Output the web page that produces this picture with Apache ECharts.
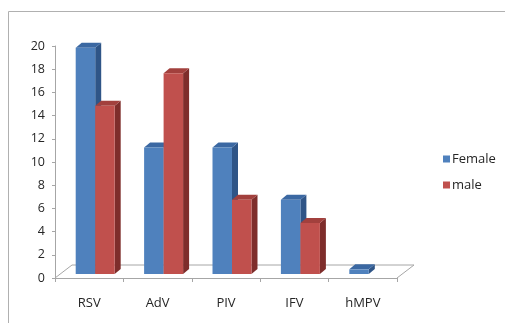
<!DOCTYPE html>
<html>
<head>
<meta charset="utf-8">
<script src="https://cdn.jsdelivr.net/npm/echarts@6/dist/echarts.min.js"></script>
<style>
  html, body { margin: 0; padding: 0; background: #fff; }
  #chart { width: 505px; height: 323px; }
</style>
</head>
<body>
<div id="chart"></div>
<script>
// Virus categories and counts per sex
const categories = ['RSV', 'AdV', 'PIV', 'IFV', 'hMPV'];
const femaleValues = [19.5, 10.9, 10.9, 6.4, 0.4];
const maleValues = [14.5, 17.3, 6.4, 4.4, 0];
const seriesNames = ['Female', 'male'];
const yMin = 0, yMax = 20, yStep = 2;

// Face colours for the pseudo-3D columns: front, side, top
const palettes = [
  { front: '#4F81BD', side: '#2F5587', top: '#3B68A2' },
  { front: '#C0504D', side: '#7E2D2B', top: '#A2403D' }
];

// Oblique depth of the floor and of each column, in pixels
const FLOOR_DX = 17, FLOOR_DY = -13;
const BAR_DX = 6, BAR_DY = -5;
const SHIFT_X = 6, SHIFT_Y = -4; // columns sit part-way into the floor

function columnRenderer(seriesIdx) {
  const pal = palettes[seriesIdx];
  return function (params, api) {
    const cat = api.value(0);
    const val = api.value(1);
    if (!val) return null;
    const base = api.coord([cat, 0]);
    const top = api.coord([cat, val]);
    const band = api.size([1, 0])[0];
    const w = band * 0.285;
    const x0 = base[0] + SHIFT_X + (seriesIdx === 0 ? -w : 0);
    const x1 = x0 + w;
    const yb = base[1] + SHIFT_Y;
    const yt = top[1] + SHIFT_Y;
    return {
      type: 'group',
      children: [
        { type: 'polygon',
          shape: { points: [[x1, yb], [x1 + BAR_DX, yb + BAR_DY], [x1 + BAR_DX, yt + BAR_DY], [x1, yt]] },
          style: { fill: pal.side } },
        { type: 'polygon',
          shape: { points: [[x0, yt], [x1, yt], [x1 + BAR_DX, yt + BAR_DY], [x0 + BAR_DX, yt + BAR_DY]] },
          style: { fill: pal.top } },
        { type: 'rect',
          shape: { x: x0, y: yt, width: w, height: yb - yt },
          style: { fill: pal.front } }
      ]
    };
  };
}

function floorRenderer(params, api) {
  const band = api.size([1, 0])[0];
  const l = api.coord([0, 0]);
  const r = api.coord([categories.length - 1, 0]);
  const x0 = l[0] - band / 2, x1 = r[0] + band / 2, y = l[1];
  return {
    type: 'polyline',
    shape: { points: [[x0, y], [x0 + FLOOR_DX, y + FLOOR_DY], [x1 + FLOOR_DX, y + FLOOR_DY], [x1, y]] },
    style: { stroke: '#a6a6a6', fill: null, lineWidth: 1 }
  };
}

const chart = echarts.init(document.getElementById('chart'), null, { renderer: 'canvas' });
const textFont = 'Open Sans';
const textColor = '#262626';

chart.setOption({
  animation: false,
  color: [palettes[0].front, palettes[1].front],
  graphic: [{
    type: 'rect',
    shape: { x: 8.5, y: 11.5, width: 600, height: 400 },
    style: { fill: null, stroke: '#b0b0b0', lineWidth: 1 },
    silent: true
  }],
  grid: { left: 55, right: 108, top: 46, bottom: 45 },
  legend: {
    data: seriesNames,
    orient: 'vertical',
    left: 438,
    top: 147,
    itemWidth: 7,
    itemHeight: 7,
    itemGap: 12,
    icon: 'rect',
    textStyle: { fontFamily: textFont, fontSize: 13, color: textColor, lineHeight: 14, padding: [0, 0, 0, -3] }
  },
  xAxis: {
    type: 'category',
    data: categories,
    boundaryGap: true,
    axisLine: { lineStyle: { color: '#a6a6a6', width: 1 } },
    axisTick: { show: true, length: 4, lineStyle: { color: '#a6a6a6' } },
    axisLabel: { fontFamily: textFont, fontSize: 13, color: textColor, margin: 19 }
  },
  yAxis: {
    type: 'value',
    min: yMin,
    max: yMax,
    interval: yStep,
    axisLine: { show: true, lineStyle: { color: '#a6a6a6', width: 1 } },
    axisTick: { show: true, length: 3, lineStyle: { color: '#a6a6a6' } },
    splitLine: { show: false },
    axisLabel: { fontFamily: textFont, fontSize: 12.5, color: textColor, margin: 10 }
  },
  series: [
    {
      name: 'floor',
      type: 'custom',
      silent: true,
      z: 1,
      renderItem: floorRenderer,
      data: [[0, 0]]
    },
    {
      name: seriesNames[0],
      type: 'custom',
      z: 2,
      renderItem: columnRenderer(0),
      itemStyle: { color: palettes[0].front },
      data: femaleValues.map((v, i) => [i, v])
    },
    {
      name: seriesNames[1],
      type: 'custom',
      z: 2,
      renderItem: columnRenderer(1),
      itemStyle: { color: palettes[1].front },
      data: maleValues.map((v, i) => [i, v])
    }
  ]
});
</script>
</body>
</html>
